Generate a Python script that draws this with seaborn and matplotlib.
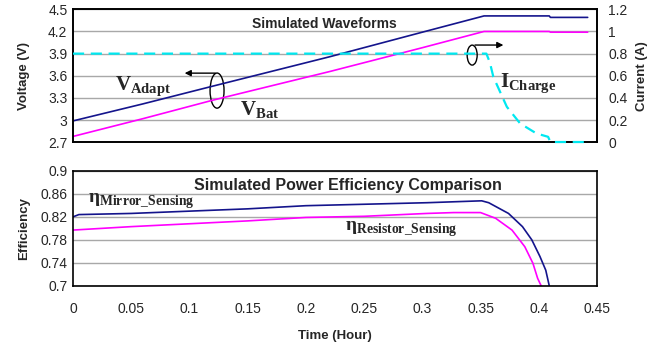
import matplotlib
matplotlib.use("Agg")

import matplotlib.pyplot as plt
from matplotlib.patches import Ellipse
import seaborn as sns

# Top panel: voltages (V) and charge current (A) vs time (hour)
t_volt = [0, 0.06, 0.12, 0.221, 0.30, 0.353, 0.409, 0.41, 0.442]
v_adapt = [2.99, 3.22, 3.46, 3.86, 4.19, 4.41, 4.41, 4.39, 4.39]
v_bat = [2.78, 3.02, 3.27, 3.66, 3.98, 4.20, 4.20, 4.19, 4.19]

t_charge = [0, 0.355, 0.358, 0.361, 0.367, 0.3726, 0.384, 0.398, 0.408, 0.41, 0.442]
i_charge = [0.8, 0.8, 0.72, 0.59, 0.45, 0.32, 0.17, 0.08, 0.05, 0.003, 0.003]

# Bottom panel: efficiency vs time
t_mirror = [0, 0.005, 0.05, 0.1, 0.15, 0.2, 0.25, 0.304, 0.351, 0.357, 0.374, 0.386, 0.394, 0.401, 0.406, 0.409]
eff_mirror = [0.820, 0.824, 0.826, 0.830, 0.834, 0.8395, 0.842, 0.8447, 0.848, 0.8447, 0.826, 0.803, 0.780, 0.751, 0.727, 0.70]
t_resistor = [0, 0.05, 0.1, 0.15, 0.2, 0.25, 0.304, 0.327, 0.350, 0.363, 0.377, 0.388, 0.395, 0.399, 0.402]
eff_resistor = [0.797, 0.803, 0.808, 0.813, 0.819, 0.821, 0.826, 0.8275, 0.8275, 0.8175, 0.797, 0.768, 0.739, 0.713, 0.70]

volt_ticks = [2.7, 3, 3.3, 3.6, 3.9, 4.2, 4.5]
volt_labels = ["2.7", "3", "3.3", "3.6", "3.9", "4.2", "4.5"]
curr_ticks = [0, 0.2, 0.4, 0.6, 0.8, 1, 1.2]
curr_labels = ["0", "0.2", "0.4", "0.6", "0.8", "1", "1.2"]
eff_ticks = [0.7, 0.74, 0.78, 0.82, 0.86, 0.9]
eff_labels = ["0.7", "0.74", "0.78", "0.82", "0.86", "0.9"]
time_ticks = [0, 0.05, 0.1, 0.15, 0.2, 0.25, 0.3, 0.35, 0.4, 0.45]
time_labels = ["0", "0.05", "0.1", "0.15", "0.2", "0.25", "0.3", "0.35", "0.4", "0.45"]

NAVY = "#14148c"
MAGENTA = "#ff00ff"
CYAN = "#00e8f0"
GRID = "#a8a8a8"

sns.set_style("white")
plt.rcParams["font.family"] = ["Liberation Sans", "DejaVu Sans"]
plt.rcParams["mathtext.fontset"] = "custom"
plt.rcParams["mathtext.rm"] = "Liberation Serif"
plt.rcParams["mathtext.bf"] = "Liberation Serif:bold"

fig = plt.figure(figsize=(6.68, 3.43), dpi=100)
ax1 = fig.add_axes([0.1093, 0.585, 0.7844, 0.388])
ax3 = fig.add_axes([0.1093, 0.167, 0.7844, 0.3345])

# ---- top panel
ax1.set_xlim(0, 0.45)
ax1.set_ylim(2.7, 4.5)
ax1.set_yticks(volt_ticks)
ax1.set_yticklabels(volt_labels, fontsize=10)
ax1.set_xticks(time_ticks)
ax1.set_xticklabels([])
ax1.grid(axis="y", color=GRID, lw=1)
ax1.set_axisbelow(True)
ax1.tick_params(axis="x", direction="in", length=4, width=1, color="black")
ax1.tick_params(axis="y", length=0, pad=4)
for s in ax1.spines.values():
    s.set_color("black")
    s.set_linewidth(1.2)

sns.lineplot(x=t_volt, y=v_adapt, color=NAVY, lw=1.2, ax=ax1, estimator=None)
sns.lineplot(x=t_volt, y=v_bat, color=MAGENTA, lw=1.2, ax=ax1, estimator=None)
ax1.set_ylabel("Voltage (V)", fontsize=9.5, fontweight="bold")

ax2 = ax1.twinx()
ax2.set_ylim(0, 1.2)
ax2.set_yticks(curr_ticks)
ax2.set_yticklabels(curr_labels, fontsize=10)
ax2.tick_params(axis="y", length=0, pad=8)
sns.lineplot(x=t_charge, y=i_charge, color=CYAN, lw=1.6, ax=ax2, estimator=None,
             linestyle=(0, (5, 3)), zorder=5)
for ln in ax2.lines:
    ln.set_clip_on(False)
ax2.set_ylabel("Current (A)", fontsize=9.5, fontweight="bold", labelpad=6)
ax2.set_xlim(0, 0.45)
for s in ax2.spines.values():
    s.set_color("black")
    s.set_linewidth(1.2)

ax1.text(0.154, 4.242, "Simulated Waveforms", fontsize=10, fontweight="bold", va="baseline")
ax1.text(0.036, 3.40, r"$\mathbf{V}_{\mathbf{Adapt}}$", fontsize=15, va="baseline")
ax1.text(0.1435, 3.065, r"$\mathbf{V}_{\mathbf{Bat}}$", fontsize=15, va="baseline")
ax1.text(0.367, 3.44, r"$\mathbf{I}_{\mathbf{Charge}}$", fontsize=15, va="baseline")

ax1.add_patch(Ellipse((0.1237, 3.40), 0.012, 0.475, fill=False, ec="black", lw=1))
ax1.annotate("", xy=(0.0935, 3.636), xytext=(0.1246, 3.636),
             arrowprops=dict(arrowstyle="-|>", color="black", lw=1, mutation_scale=9))
ax1.add_patch(Ellipse((0.3428, 3.88), 0.0086, 0.27, fill=False, ec="black", lw=1))
ax1.annotate("", xy=(0.372, 4.016), xytext=(0.3428, 4.016),
             arrowprops=dict(arrowstyle="-|>", color="black", lw=1, mutation_scale=9))

# ---- bottom panel
ax3.set_xlim(0, 0.45)
ax3.set_ylim(0.7, 0.9)
ax3.set_yticks(eff_ticks)
ax3.set_yticklabels(eff_labels, fontsize=10)
ax3.set_xticks(time_ticks)
ax3.set_xticklabels(time_labels, fontsize=10)
ax3.grid(axis="y", color=GRID, lw=1)
ax3.set_axisbelow(True)
ax3.tick_params(axis="x", direction="in", length=4, width=1, pad=12, color="black")
ax3.tick_params(axis="y", length=0, pad=4)
for s in ax3.spines.values():
    s.set_color("black")
    s.set_linewidth(1.2)

sns.lineplot(x=t_mirror, y=eff_mirror, color=NAVY, lw=1.2, ax=ax3, estimator=None)
sns.lineplot(x=t_resistor, y=eff_resistor, color=MAGENTA, lw=1.2, ax=ax3, estimator=None)

ax3.text(0.104, 0.867, "Simulated Power Efficiency Comparison", fontsize=11.5,
         fontweight="bold", va="baseline")
ax3.text(0.0129, 0.845, r"$\mathbf{\eta}_{\mathbf{Mirror\_Sensing}}$", fontsize=14, va="baseline")
ax3.text(0.2337, 0.796, r"$\mathbf{\eta}_{\mathbf{Resistor\_Sensing}}$", fontsize=14, va="baseline")

ax3.set_ylabel("Efficiency", fontsize=9.5, fontweight="bold")
ax3.set_xlabel("Time (Hour)", fontsize=9.5, fontweight="bold", labelpad=10)
ax3.yaxis.set_label_coords(-0.082, 0.5)
ax1.yaxis.set_label_coords(-0.082, 0.5)

fig.savefig("out.png", dpi=100)
